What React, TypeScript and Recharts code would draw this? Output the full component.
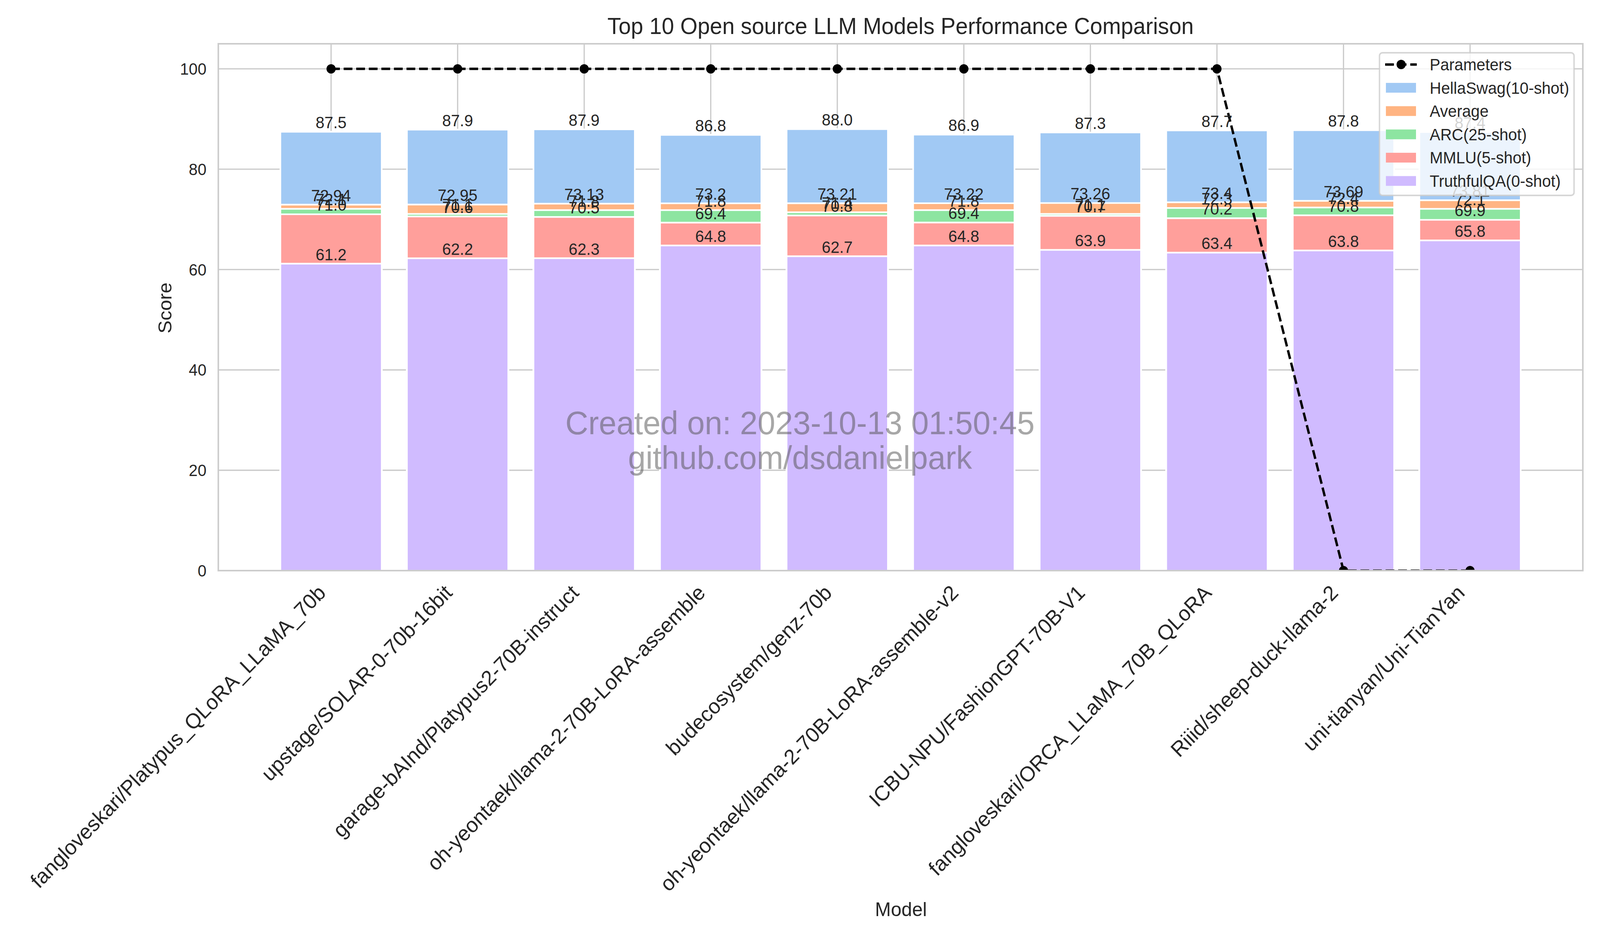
import React from 'react';
import { ComposedChart, Bar, Line, XAxis, YAxis, CartesianGrid, Legend, LabelList } from 'recharts';

const WIDTH = 4200;
const HEIGHT = 2400;
const PLOT = { left: 573, top: 112, right: 4155, bottom: 1460 };
const FONT = '"Liberation Sans", Arial, sans-serif';
const INK = '#262626';
const GRID = '#cccccc';

// data
const models = [
  'fangloveskari/Platypus_QLoRA_LLaMA_70b',
  'upstage/SOLAR-0-70b-16bit',
  'garage-bAInd/Platypus2-70B-instruct',
  'oh-yeontaek/llama-2-70B-LoRA-assemble',
  'budecosystem/genz-70b',
  'oh-yeontaek/llama-2-70B-LoRA-assemble-v2',
  'ICBU-NPU/FashionGPT-70B-V1',
  'fangloveskari/ORCA_LLaMA_70B_QLoRA',
  'Riiid/sheep-duck-llama-2',
  'uni-tianyan/Uni-TianYan',
];
const hellaSwag = [87.46, 87.89, 87.94, 86.84, 87.99, 86.89, 87.32, 87.74, 87.78, 87.4];
const average = [72.94, 72.95, 73.13, 73.2, 73.21, 73.22, 73.26, 73.4, 73.69, 73.81];
const arc = [72.1, 71.08, 71.84, 71.84, 71.42, 71.84, 71.08, 72.27, 72.37, 72.1];
const mmlu = [71.02, 70.58, 70.48, 69.36, 70.78, 69.38, 70.7, 70.23, 70.82, 69.91];
const truthfulQA = [61.18, 62.24, 62.26, 64.79, 62.66, 64.79, 63.92, 63.37, 63.8, 65.81];
const parameters = [100, 100, 100, 100, 100, 100, 100, 100, 0, 0];
const yTicks = [0, 20, 40, 60, 80, 100];

const oneDecimal = (v: any) => Number(v).toFixed(1);
const raw = (v: any) => String(v);

// drawn in this order, each bar from zero, later ones on top
const barSeries = [
  { key: 'hellaSwag', name: 'HellaSwag(10-shot)', color: '#a1c9f4', fmt: oneDecimal },
  { key: 'average', name: 'Average', color: '#ffb482', fmt: raw },
  { key: 'arc', name: 'ARC(25-shot)', color: '#8de5a1', fmt: oneDecimal },
  { key: 'mmlu', name: 'MMLU(5-shot)', color: '#ff9f9b', fmt: oneDecimal },
  { key: 'truthfulQA', name: 'TruthfulQA(0-shot)', color: '#d0bbff', fmt: oneDecimal },
];

const data = models.map((model, i) => ({
  model,
  hellaSwag: hellaSwag[i],
  average: average[i],
  arc: arc[i],
  mmlu: mmlu[i],
  truthfulQA: truthfulQA[i],
  parameters: parameters[i],
}));

const BAR_SIZE = 266;

const ModelTick = (props: any) => {
  const { x, y, payload } = props;
  const px = x - 11;
  const py = y + 60;
  return (
    <text
      x={px}
      y={py}
      transform={`rotate(-45 ${px} ${py})`}
      textAnchor="end"
      fill={INK}
      fontSize={54}
      fontFamily={FONT}
    >
      {payload.value}
    </text>
  );
};

const LegendBox = () => {
  const rowY = (i: number) => 32 + i * 59.6;
  return (
    <svg width={515} height={369} style={{ display: 'block' }}>
      <rect x={2} y={2} width={511} height={365} rx={8} fill="#fff" fillOpacity={0.8} stroke={GRID} strokeOpacity={0.8} strokeWidth={4} />
      <line x1={17} x2={100} y1={rowY(0)} y2={rowY(0)} stroke="#000" strokeWidth={6.25} strokeDasharray="23 10" />
      <circle cx={59} cy={rowY(0)} r={12} fill="#000" />
      <text x={134} y={rowY(0) + 15} fontSize={41.7} fontFamily={FONT} fill={INK}>Parameters</text>
      {barSeries.map((s, i) => (
        <g key={s.key}>
          <rect x={19} y={rowY(i + 1) - 12.5} width={79} height={25} fill={s.color} />
          <text x={134} y={rowY(i + 1) + 15} fontSize={41.7} fontFamily={FONT} fill={INK}>{s.name}</text>
        </g>
      ))}
    </svg>
  );
};

const App = () => {
  const plotW = PLOT.right - PLOT.left;
  const plotH = PLOT.bottom - PLOT.top;
  // the window may be narrower than the figure; fit the whole figure into it
  const vw = typeof window !== 'undefined' && window.innerWidth ? window.innerWidth : WIDTH;
  const vh = typeof window !== 'undefined' && window.innerHeight ? window.innerHeight : HEIGHT;
  const sx = Math.min(1, vw / WIDTH);
  const sy = Math.min(1, vh / HEIGHT);
  return (
    <div
      style={{
        position: 'absolute',
        left: 0,
        top: 0,
        width: WIDTH,
        height: HEIGHT,
        background: '#fff',
        transform: `scale(${sx}, ${sy})`,
        transformOrigin: '0 0',
      }}
    >
      <ComposedChart
        width={WIDTH}
        height={HEIGHT}
        data={data}
        margin={{ top: PLOT.top, right: WIDTH - PLOT.right, bottom: 0, left: 0 }}
        barGap={-BAR_SIZE}
        barCategoryGap={0}
      >
        <CartesianGrid stroke={GRID} strokeWidth={3.3} />
        <XAxis
          dataKey="model"
          height={HEIGHT - PLOT.bottom}
          padding={{ left: 130, right: 130 }}
          interval={0}
          axisLine={false}
          tickLine={false}
          tickSize={0}
          tickMargin={0}
          tick={<ModelTick />}
        />
        <YAxis
          width={PLOT.left}
          type="number"
          domain={[0, 105]}
          ticks={yTicks}
          allowDataOverflow
          axisLine={false}
          tickLine={false}
          tickSize={0}
          tickMargin={31}
          tick={{ fill: INK, fontSize: 41.7, fontFamily: FONT }}
        />
        {barSeries.map((s) => (
          <Bar
            key={s.key}
            dataKey={s.key}
            name={s.name}
            fill={s.color}
            stroke="#fff"
            strokeWidth={4.2}
            barSize={BAR_SIZE}
            isAnimationActive={false}
          >
            <LabelList
              dataKey={s.key}
              position="top"
              offset={9}
              formatter={s.fmt}
              fill={INK}
              fontSize={41.7}
              fontFamily={FONT}
            />
          </Bar>
        ))}
        <Line
          dataKey="parameters"
          name="Parameters"
          type="linear"
          stroke="#000"
          strokeWidth={6.25}
          strokeDasharray="23 10"
          dot={{ r: 12, fill: '#000', stroke: 'none', strokeWidth: 0 }}
          activeDot={false}
          isAnimationActive={false}
        />
        <Legend
          layout="horizontal"
          verticalAlign="middle"
          align="center"
          content={() => <LegendBox />}
          wrapperStyle={{ left: 3619, top: 133, width: 515, height: 369 }}
        />
      </ComposedChart>
      <svg
        width={WIDTH}
        height={HEIGHT}
        style={{ position: 'absolute', left: 0, top: 0, pointerEvents: 'none' }}
      >
        <rect x={PLOT.left} y={PLOT.top} width={plotW} height={plotH} fill="none" stroke={GRID} strokeWidth={4} />
        <text x={(PLOT.left + PLOT.right) / 2} y={87} textAnchor="middle" fontSize={58.3} fontFamily={FONT} fill={INK}>
          Top 10 Open source LLM Models Performance Comparison
        </text>
        <text x={2365} y={2344} textAnchor="middle" fontSize={50} fontFamily={FONT} fill={INK}>Model</text>
        <text x={450} y={788} transform="rotate(-90 450 788)" textAnchor="middle" fontSize={50} fontFamily={FONT} fill={INK}>
          Score
        </text>
        <g fill="#505050" fillOpacity={0.5} fontSize={83.3} fontFamily={FONT} textAnchor="middle">
          <text x={WIDTH / 2} y={1111}>Created on: 2023-10-13 01:50:45</text>
          <text x={WIDTH / 2} y={1200}>github.com/dsdanielpark</text>
        </g>
      </svg>
    </div>
  );
};

export default App;
